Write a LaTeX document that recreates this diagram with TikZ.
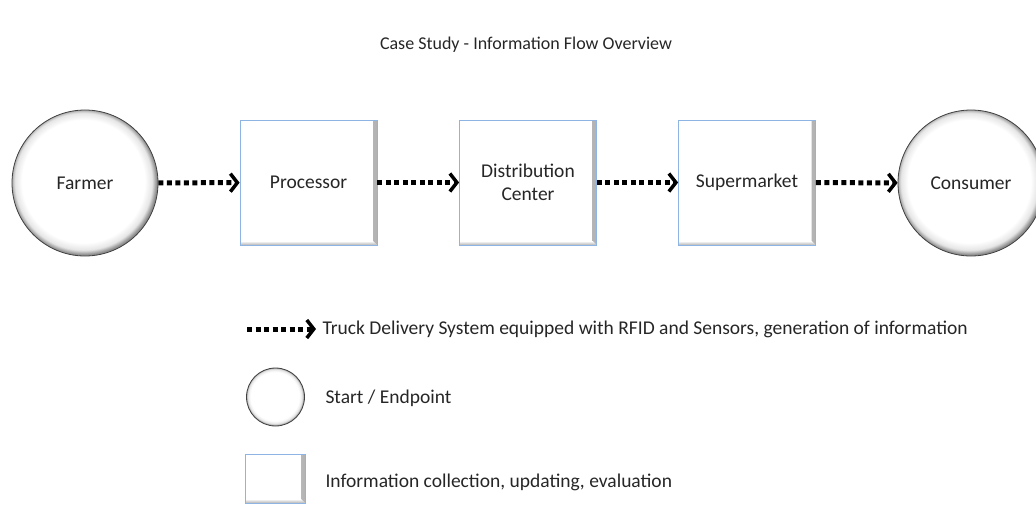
\documentclass[tikz,border=0pt]{standalone}
\usepackage{fontspec}
\setmainfont{Carlito}
\usetikzlibrary{arrows.meta}

\definecolor{boxline}{RGB}{141,180,226}
\definecolor{txt}{RGB}{38,38,38}
\pgfdeclareradialshading{rim}{\pgfpoint{-1bp}{1bp}}{color(0bp)=(white); color(21bp)=(white); color(23.5bp)=(black!10); color(25bp)=(black!45); color(50bp)=(black!45)}

\tikzset{
	label text/.style={font=\fontsize{19.5}{23}\selectfont, text=txt},
	endpoint/.style={circle, minimum size=146pt, draw=black!75, line width=0.8pt, shading=rim, label text},
	infobox/.style={rectangle, minimum width=137pt, minimum height=125pt, draw=boxline, fill=white, line width=0.8pt, align=center, label text,
		path picture={
			\shade[left color=white, right color=black!30]
				([xshift=-4pt]path picture bounding box.north east) -- (path picture bounding box.north east)
				-- (path picture bounding box.south east) -- ([xshift=-4pt,yshift=4pt]path picture bounding box.south east) -- cycle;
			\shade[top color=white, bottom color=black!30]
				([yshift=4pt]path picture bounding box.south west) -- ([xshift=-4pt,yshift=4pt]path picture bounding box.south east)
				-- (path picture bounding box.south east) -- (path picture bounding box.south west) -- cycle;
		}},
	truck/.style={line width=5pt, dash pattern=on 5pt off 3.5pt, -{Straight Barb[length=7pt,width=18pt,line width=3.5pt]}},
}

\begin{document}
\begin{tikzpicture}[x=1pt, y=-1pt]
	\useasboundingbox (0,0) rectangle (1036,504);
	\clip (0,0) rectangle (1036,504);

	\node[label text, font=\fontsize{18}{21}\selectfont] (title) at (526, 45) {Case Study - Information Flow Overview};

	\node[endpoint] (farmer) at (85, 183) {Farmer};
	\node[infobox] (proc) at (308.5, 182.5) {Processor};
	\node[infobox] (dist) at (528, 182.5) {Distribution\\Center};
	\node[infobox] (super) at (747, 182.5) {Supermarket};
	\node[endpoint] (consumer) at (971, 183) {Consumer};

	\foreach \i / \j in {farmer/proc, proc/dist, dist/super, super/consumer}
	{
		\path (\i) edge[truck] (\j);
	};

	% legend
	\coordinate (lega) at (247, 329);
	\coordinate (legb) at (316, 329);
	\draw[truck] (lega) -- (legb);
	\node[label text, anchor=west] (legtruck) at (319, 329) {Truck Delivery System equipped with RFID and Sensors, generation of information};

	\node[endpoint, minimum size=58pt, inner sep=0pt] (legend1) at (275.5, 397) {};
	\node[label text, anchor=west] (legstart) at (322, 398) {Start / Endpoint};

	\node[infobox, minimum width=60pt, minimum height=49pt, inner sep=0pt] (legend2) at (275, 478.5) {};
	\node[label text, anchor=west] (leginfo) at (322, 482) {Information collection, updating, evaluation};
\end{tikzpicture}
\end{document}
